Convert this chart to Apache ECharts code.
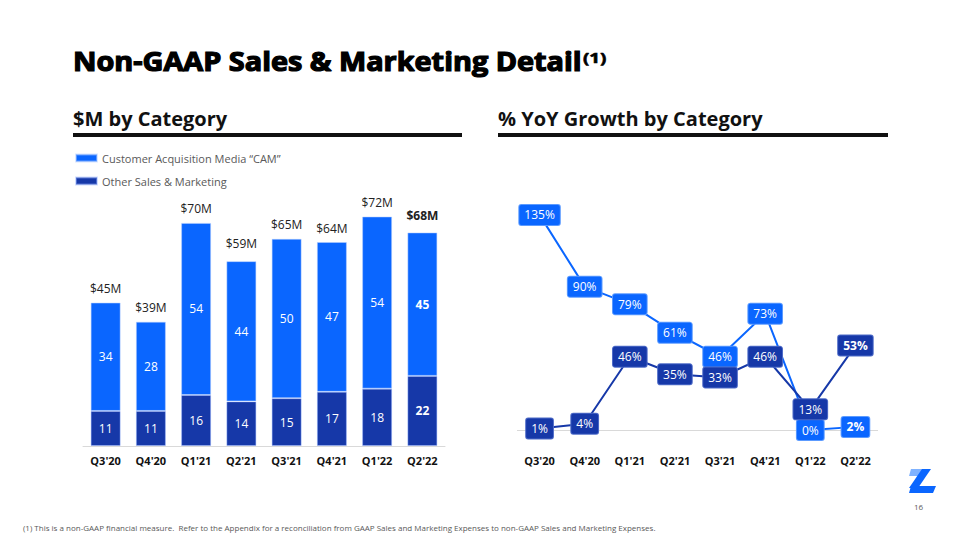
<!DOCTYPE html>
<html>
<head>
<meta charset="utf-8">
<script src="https://cdn.jsdelivr.net/npm/echarts@6/dist/echarts.min.js"></script>
<style>
html,body{margin:0;padding:0;background:#fff;}
#chart{width:960px;height:540px;}
</style>
</head>
<body>
<div id="chart"></div>
<script>
const categories = ["Q3'20","Q4'20","Q1'21","Q2'21","Q3'21","Q4'21","Q1'22","Q2'22"];
const camSpend = [34,28,54,44,50,47,54,45];
const otherSpend = [11,11,16,14,15,17,18,22];
const totalSpend = [45,39,70,59,65,64,72,68];
const camGrowth = [135,90,79,61,46,73,0,2];
const otherGrowth = [1,4,46,35,33,46,13,53];
const camName = 'Customer Acquisition Media \u201cCAM\u201d';
const otherName = 'Other Sales & Marketing';
const titleText = 'Non-GAAP Sales & Marketing Detail';

const BRIGHT = '#0A66FF';
const DARK = '#1638A8';
const FONT = '"Open Sans", "Noto Sans", sans-serif';
const lastIdx = categories.length - 1;

function boldLast(arr) {
  return arr.map((v, i) => i === lastIdx ? {value: v, label: {fontWeight: 'bold'}} : v);
}

const titleFont = 'bold 26px ' + FONT;
const mctx = document.createElement('canvas').getContext('2d');
mctx.font = titleFont;
const titleW = mctx.measureText(titleText).width;
const titleScale = 509 / titleW;

const chart = echarts.init(document.getElementById('chart'), null, {renderer: 'svg'});

const boxLabel = (bg, border) => ({
  show: true,
  position: 'inside',
  color: '#fff',
  fontSize: 12,
  fontFamily: FONT,
  backgroundColor: bg,
  borderColor: border,
  borderWidth: 1,
  borderRadius: 2,
  padding: [3, 5, 2, 5],
  lineHeight: 15,
  opacity: 1,
  formatter: p => p.value + '%'
});

const option = {
  animation: false,
  textStyle: {fontFamily: FONT},
  legend: {
    data: [camName, otherName],
    orient: 'vertical',
    left: 75,
    top: 151,
    padding: 0,
    icon: 'rect',
    itemWidth: 21,
    itemHeight: 7,
    itemGap: 9,
    textStyle: {color: '#595959', fontSize: 11, lineHeight: 14, fontFamily: FONT}
  },
  grid: [
    {left: 83, right: 515, top: 191, bottom: 94},
    {left: 517, right: 82, top: 191, bottom: 94}
  ],
  xAxis: [
    {type: 'category', gridIndex: 0, data: categories,
     axisTick: {show: false},
     axisLine: {lineStyle: {color: '#D9D9D9', width: 1}},
     axisLabel: {fontWeight: 'bold', fontSize: 11, color: '#111', margin: 9, fontFamily: FONT}},
    {type: 'category', gridIndex: 1, data: categories,
     axisTick: {show: false},
     axisLine: {show: false, onZero: false},
     axisLabel: {fontWeight: 'bold', fontSize: 11, color: '#111', margin: 9, fontFamily: FONT}}
  ],
  yAxis: [
    {type: 'value', gridIndex: 0, min: 0, max: 80, show: false, splitLine: {show: false}},
    {type: 'value', gridIndex: 1, min: -10, max: 150, show: false, splitLine: {show: false}}
  ],
  series: [
    {
      name: otherName, type: 'bar', stack: 'spend', xAxisIndex: 0, yAxisIndex: 0,
      barWidth: 30,
      itemStyle: {color: DARK, borderColor: 'rgba(150,180,255,0.45)', borderWidth: 1},
      label: {show: true, position: 'inside', color: '#fff', fontSize: 12, fontFamily: FONT},
      data: boldLast(otherSpend)
    },
    {
      name: camName, type: 'bar', stack: 'spend', xAxisIndex: 0, yAxisIndex: 0,
      barWidth: 30,
      itemStyle: {color: BRIGHT, borderColor: 'rgba(180,205,255,0.5)', borderWidth: 1},
      label: {show: true, position: 'inside', color: '#fff', fontSize: 12, fontFamily: FONT},
      data: boldLast(camSpend)
    },
    {
      name: 'Total', type: 'scatter', xAxisIndex: 0, yAxisIndex: 0,
      symbolSize: 0, silent: true,
      itemStyle: {opacity: 1},
      label: {show: true, position: 'top', distance: 8, color: '#222', fontSize: 12, fontFamily: FONT,
              formatter: p => '$' + p.value + 'M'},
      data: boldLast(totalSpend)
    },
    {
      name: 'CAM Growth', type: 'line', xAxisIndex: 1, yAxisIndex: 1,
      symbol: 'none',
      lineStyle: {color: BRIGHT, width: 2},
      itemStyle: {color: BRIGHT},
      markLine: {
        silent: true, symbol: ['none', 'none'],
        label: {show: false},
        lineStyle: {color: '#D9D9D9', type: 'solid', width: 1},
        data: [{yAxis: 0}]
      },
      z: 2,
      data: camGrowth
    },
    {
      name: 'Other Growth', type: 'line', xAxisIndex: 1, yAxisIndex: 1,
      symbol: 'none',
      lineStyle: {color: DARK, width: 2},
      itemStyle: {color: DARK},
      z: 3,
      data: otherGrowth
    },
    {
      name: 'CAM Growth Labels', type: 'scatter', xAxisIndex: 1, yAxisIndex: 1,
      symbolSize: 0, silent: true, z: 10,
      itemStyle: {color: BRIGHT, opacity: 1},
      label: boxLabel(BRIGHT, '#5C9BFF'),
      data: boldLast(camGrowth)
    },
    {
      name: 'Other Growth Labels', type: 'scatter', xAxisIndex: 1, yAxisIndex: 1,
      symbolSize: 0, silent: true, z: 11,
      itemStyle: {color: DARK, opacity: 1},
      label: boxLabel(DARK, '#4F6CC8'),
      data: boldLast(otherGrowth)
    }
  ],
  graphic: [
    {type: 'text', x: 73, y: 48, scaleX: titleScale, style: {text: titleText, font: titleFont, fill: '#000', stroke: '#000', lineWidth: 1.2, verticalAlign: 'top'}},
    {type: 'text', x: 73 + 509 + 1, y: 50, scaleX: 1.25, style: {text: '(1)', font: 'bold 15px ' + FONT, fill: '#000', stroke: '#000', lineWidth: 0.6, verticalAlign: 'top'}},
    {type: 'text', left: 73, top: 108, style: {text: '$M by Category', font: 'bold 20px ' + FONT, fill: '#111'}},
    {type: 'text', left: 498, top: 108, style: {text: '% YoY Growth by Category', font: 'bold 20px ' + FONT, fill: '#111'}},
    {type: 'rect', shape: {x: 73, y: 133, width: 389, height: 4}, style: {fill: '#111'}},
    {type: 'rect', shape: {x: 498, y: 133, width: 390, height: 4}, style: {fill: '#111'}},
    {type: 'text', left: 23, top: 523, style: {text: '(1) This is a non-GAAP financial measure.  Refer to the Appendix for a reconciliation from GAAP Sales and Marketing Expenses to non-GAAP Sales and Marketing Expenses.', font: '8px ' + FONT, fill: '#595959'}},
    {type: 'text', left: 914, top: 502, style: {text: '16', font: '8px ' + FONT, fill: '#595959'}},
    {type: 'polygon', shape: {points: [[911,469],[924,469],[921.5,476],[909,476]]}, style: {fill: '#7FB2FF'}},
    {type: 'polygon', shape: {points: [[922,469],[931,469],[918,488],[909,488]]}, style: {fill: '#0A66FF'}},
    {type: 'polygon', shape: {points: [[911,486],[936,486],[933,493],[909,493]]}, style: {fill: '#0A66FF'}}
  ]
};
chart.setOption(option);
</script>
</body>
</html>
